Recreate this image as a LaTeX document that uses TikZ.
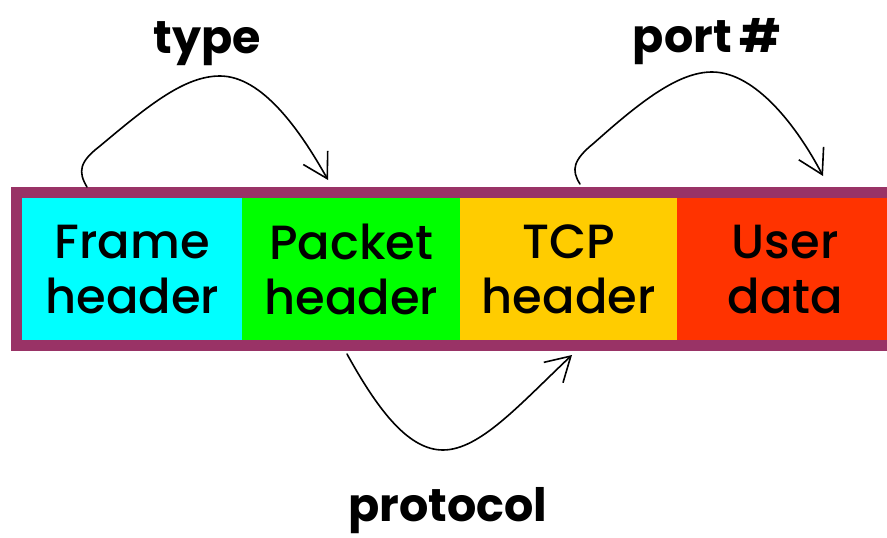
\documentclass[tikz,border=0pt]{standalone}
\usepackage{fontspec}
\setmainfont{Poppins}[UprightFont=* Medium, BoldFont=* Bold]
\usetikzlibrary{arrows.meta}
\definecolor{frameborder}{HTML}{993366}
\definecolor{cframe}{HTML}{00FFFF}
\definecolor{cpacket}{HTML}{00FF00}
\definecolor{ctcp}{HTML}{FFCC00}
\definecolor{cuser}{HTML}{FF3300}
\tikzset{
  field/.style={fill=#1, draw=none, minimum height=142pt, inner sep=0pt,
    align=center, font=\fontsize{48}{55}\selectfont},
  hdrlabel/.style={anchor=base, font=\fontsize{46}{50}\selectfont\bfseries},
  jump/.style={line width=1.6pt, line cap=round,
    -{Straight Barb[length=24pt,width=28pt,line width=1.6pt]}}
}
\begin{document}
\begin{tikzpicture}[x=1pt,y=-1pt]
  \useasboundingbox (0,0) rectangle (887,538);
  \clip (0,0) rectangle (887,538);
  % outer frame strip
  \node[fill=frameborder, minimum width=893pt, minimum height=164pt, inner sep=0pt, anchor=north west] (strip) at (11,187) {};
  % header fields
  \node[field=cframe,  minimum width=220pt, anchor=north west] (frame)  at (22,198)  {Frame\\header};
  \node[field=cpacket, minimum width=218pt, anchor=north west] (packet) at (242,198) {Packet\\header};
  \node[field=ctcp,    minimum width=217pt, anchor=north west] (tcp)    at (460,198) {TCP\\header};
  \node[field=cuser,   minimum width=216pt, anchor=north west] (user)   at (677,198) {User\\data};
  % labels
  \node[hdrlabel] (ltype)  at (207.5,53) {type};
  \node[hdrlabel] (lport)  at (707,52)   {port\,\#};
  \node[hdrlabel] (lproto) at (448,521)  {protocol};
  % arrow end points
  \coordinate (typeA)  at (87,187);
  \coordinate (typeB)  at (328,180);
  \coordinate (portA)  at (580,184);
  \coordinate (portB)  at (823,176);
  \coordinate (protoA) at (347,354);
  \coordinate (protoB) at (572,355);
  % arrows
  \draw[jump] (typeA) .. controls (78,172) and (79,162) .. (100,146)
    .. controls (150,104) and (185,76) .. (220,76)
    .. controls (262,76) and (300,130) .. (typeB);
  \draw[jump] (portA) .. controls (571,170) and (573,160) .. (594,143)
    .. controls (640,102) and (678,72) .. (712,72)
    .. controls (756,72) and (798,128) .. (portB);
  \draw[jump] (protoA) .. controls (380,414) and (410,450) .. (443,450)
    .. controls (480,450) and (520,404) .. (protoB);
\end{tikzpicture}
\end{document}
